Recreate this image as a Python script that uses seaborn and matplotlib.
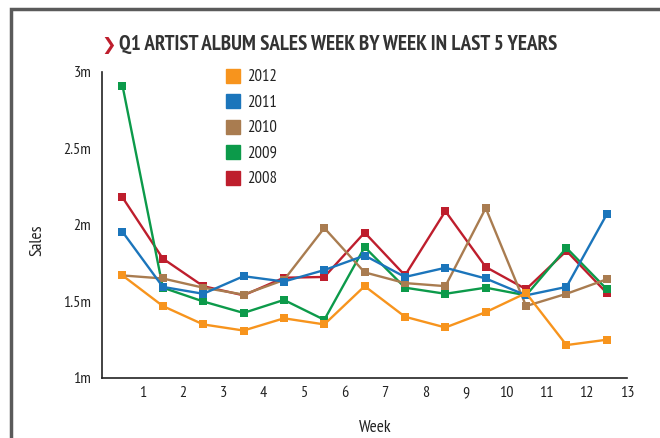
"""Q1 artist album sales, week by week, last 5 years."""

import matplotlib
matplotlib.use("Agg")
import matplotlib.pyplot as plt
from matplotlib.lines import Line2D
from matplotlib.patches import Rectangle
import pandas as pd
import seaborn as sns

WEEKS = [0.5, 1.5, 2.5, 3.5, 4.5, 5.5, 6.5, 7.5, 8.5, 9.5, 10.5, 11.5, 12.5]
SALES_2012 = [1.67, 1.47, 1.35, 1.31, 1.39, 1.35, 1.60, 1.40, 1.33, 1.43, 1.555, 1.215, 1.25]
SALES_2011 = [1.955, 1.595, 1.55, 1.665, 1.63, 1.705, 1.80, 1.66, 1.72, 1.65, 1.54, 1.595, 2.07]
SALES_2010 = [1.67, 1.65, 1.59, 1.545, 1.64, 1.98, 1.69, 1.62, 1.60, 2.11, 1.47, 1.55, 1.645]
SALES_2009 = [2.91, 1.59, 1.50, 1.425, 1.51, 1.38, 1.855, 1.59, 1.55, 1.59, 1.54, 1.85, 1.58]
SALES_2008 = [2.18, 1.78, 1.60, 1.54, 1.655, 1.66, 1.95, 1.67, 2.09, 1.725, 1.58, 1.83, 1.555]

YEARS = ["2012", "2011", "2010", "2009", "2008"]
COLORS = {"2012": "#F7941D", "2011": "#1B75BB", "2010": "#A97C50",
          "2009": "#0C9A4A", "2008": "#BE1E2D"}
Y_TICKS = [1, 1.5, 2, 2.5, 3]
Y_LABELS = ["1m", "1.5m", "2m", "2.5m", "3m"]
X_TICKS = list(range(1, 14))

FONT = ["PT Sans Narrow", "DejaVu Sans"]


def build_frame() -> pd.DataFrame:
    series = {"2012": SALES_2012, "2011": SALES_2011, "2010": SALES_2010,
              "2009": SALES_2009, "2008": SALES_2008}
    rows = []
    for year, vals in series.items():
        for w, v in zip(WEEKS, vals):
            rows.append({"year": year, "week": w, "sales": v})
    return pd.DataFrame(rows)


def main():
    sns.set_style("white")
    plt.rcParams["font.family"] = FONT
    df = build_frame()

    fig = plt.figure(figsize=(6.6, 4.38), dpi=100)
    ax = fig.add_axes([0.155, 0.137, 0.795, 0.699])

    # border frame of the graphic
    fig.patches.append(Rectangle((11 / 660, -0.1), 1.2, 1 - 9 / 438 + 0.1,
                                 transform=fig.transFigure, fill=False,
                                 edgecolor="#5a5a5a", linewidth=2.5))

    # draw oldest first so newer years sit on top
    for year in YEARS[::-1]:
        sub = df[df["year"] == year]
        sns.lineplot(data=sub, x="week", y="sales", ax=ax, color=COLORS[year],
                     marker="s", markersize=6, markeredgewidth=0,
                     linewidth=1.7, legend=False)

    ax.set_xlim(0, 13)
    ax.set_ylim(1, 3)
    ax.set_xticks(X_TICKS)
    ax.set_xticklabels([str(x) for x in X_TICKS])
    ax.set_yticks(Y_TICKS)
    ax.set_yticklabels(Y_LABELS)
    ax.tick_params(axis="both", direction="in", colors="#555555",
                   labelcolor="#222222", labelsize=11.5, width=1.2)
    ax.tick_params(axis="x", length=7, pad=6)
    ax.tick_params(axis="y", length=12, pad=8)
    for side in ["top", "right"]:
        ax.spines[side].set_visible(False)
    for side in ["left", "bottom"]:
        ax.spines[side].set_color("#222222")
        ax.spines[side].set_linewidth(1.2)

    ax.set_xlabel("Week", fontsize=12.5, color="#222222")
    ax.set_ylabel("Sales", fontsize=12.5, color="#222222")
    ax.xaxis.set_label_coords(0.52, -0.137)
    ax.yaxis.set_label_coords(-0.109, 0.45)

    handles = [Line2D([], [], linestyle="none", marker="s", markersize=10,
                      color=COLORS[y]) for y in YEARS]
    ax.legend(handles, YEARS, loc="upper left", bbox_to_anchor=(0.205, 1.057),
              frameon=False, fontsize=12, handletextpad=0.35, labelspacing=0.57,
              handlelength=1.0, labelcolor="#222222")

    fig.text(0.165, 0.898, "\u276F", color="#BE1E2D", fontsize=12.5,
             fontweight="bold", ha="center", va="center",
             family=["DejaVu Sans"])
    fig.text(0.180, 0.898, "Q1 ARTIST ALBUM SALES WEEK BY WEEK IN LAST 5 YEARS",
             color="#333333", fontsize=15.1, fontweight="bold", ha="left",
             va="center")

    fig.savefig("out.png", dpi=100)
    plt.close(fig)


if __name__ == "__main__":
    main()
